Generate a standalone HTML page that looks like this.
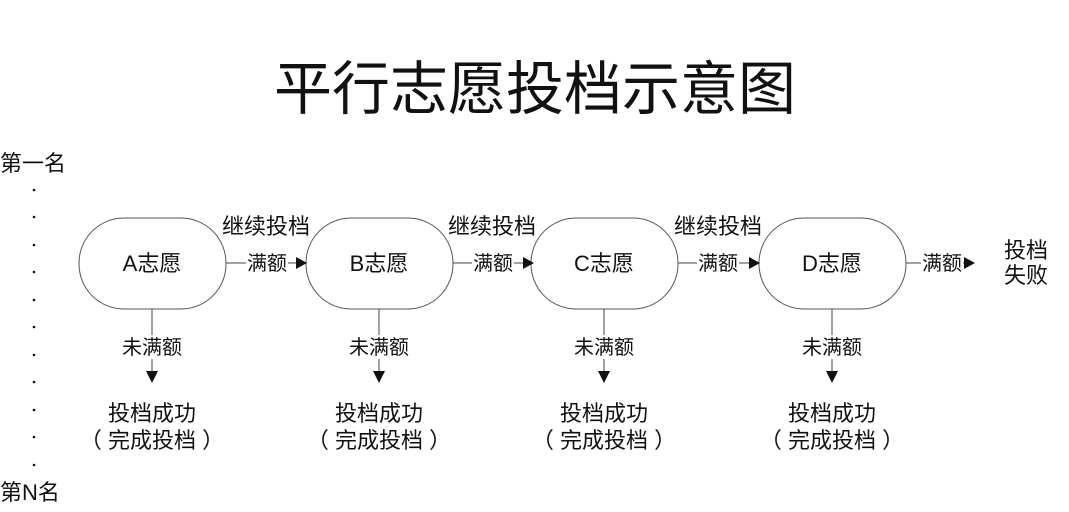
<!DOCTYPE html>
<html><head><meta charset="utf-8"><style>
body{margin:0;background:#fff;}
svg text{font-family:"Liberation Sans","Noto Sans CJK SC",sans-serif;fill:#111;}
</style></head><body>
<svg width="1069" height="507" viewBox="0 0 1069 507" xmlns="http://www.w3.org/2000/svg">
<text x="535" y="109" font-size="58" text-anchor="middle">平行志愿投档示意图</text>
<text x="0" y="171" font-size="22">第一名</text>
<text x="0" y="500" font-size="22">第N名</text>
<g fill="#111">
<circle cx="34" cy="190" r="1.3"/><circle cx="34" cy="217" r="1.3"/><circle cx="34" cy="245" r="1.3"/><circle cx="34" cy="272" r="1.3"/><circle cx="34" cy="300" r="1.3"/><circle cx="34" cy="327" r="1.3"/><circle cx="34" cy="355" r="1.3"/><circle cx="34" cy="382" r="1.3"/><circle cx="34" cy="410" r="1.3"/><circle cx="34" cy="437" r="1.3"/><circle cx="34" cy="465" r="1.3"/>
</g>
<g fill="#fff" stroke="#555" stroke-width="1">
<rect x="79" y="218" width="147" height="91" rx="45"/>
<rect x="306" y="218" width="147" height="91" rx="45"/>
<rect x="531" y="218" width="147" height="91" rx="45"/>
<rect x="759" y="218" width="147" height="91" rx="45"/>
</g>
<g font-size="22" text-anchor="middle">
<text x="152" y="271">A志愿</text>
<text x="379" y="271">B志愿</text>
<text x="604" y="271">C志愿</text>
<text x="832" y="271">D志愿</text>
<text x="266" y="234">继续投档</text>
<text x="492" y="234">继续投档</text>
<text x="718" y="234">继续投档</text>
</g>
<g stroke="#444" stroke-width="1">
<line x1="226" y1="263" x2="298" y2="263"/>
<line x1="453" y1="263" x2="525" y2="263"/>
<line x1="678" y1="263" x2="751" y2="263"/>
<line x1="906" y1="263" x2="966" y2="263"/>
<line x1="152" y1="309" x2="152" y2="374"/>
<line x1="379" y1="309" x2="379" y2="374"/>
<line x1="604" y1="309" x2="604" y2="374"/>
<line x1="832" y1="309" x2="832" y2="374"/>
</g>
<g fill="#fff">
<rect x="246" y="251" width="42" height="24"/>
<rect x="472" y="251" width="42" height="24"/>
<rect x="697" y="251" width="42" height="24"/>
<rect x="921" y="251" width="42" height="24"/>
<rect x="116" y="335" width="72" height="24"/>
<rect x="343" y="335" width="72" height="24"/>
<rect x="568" y="335" width="72" height="24"/>
<rect x="796" y="335" width="72" height="24"/>
</g>
<g fill="#111">
<polygon points="296,257 307,263 296,269"/>
<polygon points="523,257 534,263 523,269"/>
<polygon points="749,257 760,263 749,269"/>
<polygon points="964,257 975,263 964,269"/>
<polygon points="146,371 158,371 152,383"/>
<polygon points="373,371 385,371 379,383"/>
<polygon points="598,371 610,371 604,383"/>
<polygon points="826,371 838,371 832,383"/>
</g>
<g font-size="20" text-anchor="middle">
<text x="267" y="270">满额</text>
<text x="493" y="270">满额</text>
<text x="718" y="270">满额</text>
<text x="942" y="270">满额</text>
<text x="152" y="354">未满额</text>
<text x="379" y="354">未满额</text>
<text x="604" y="354">未满额</text>
<text x="832" y="354">未满额</text>
</g>
<g font-size="22" text-anchor="middle">
<text x="152" y="421">投档成功</text>
<text x="152" y="448">（ 完成投档 ）</text>
<text x="379" y="421">投档成功</text>
<text x="379" y="448">（ 完成投档 ）</text>
<text x="604" y="421">投档成功</text>
<text x="604" y="448">（ 完成投档 ）</text>
<text x="832" y="421">投档成功</text>
<text x="832" y="448">（ 完成投档 ）</text>
<text x="1026" y="258">投档</text>
<text x="1026" y="283">失败</text>
</g>
</svg>
</body></html>
